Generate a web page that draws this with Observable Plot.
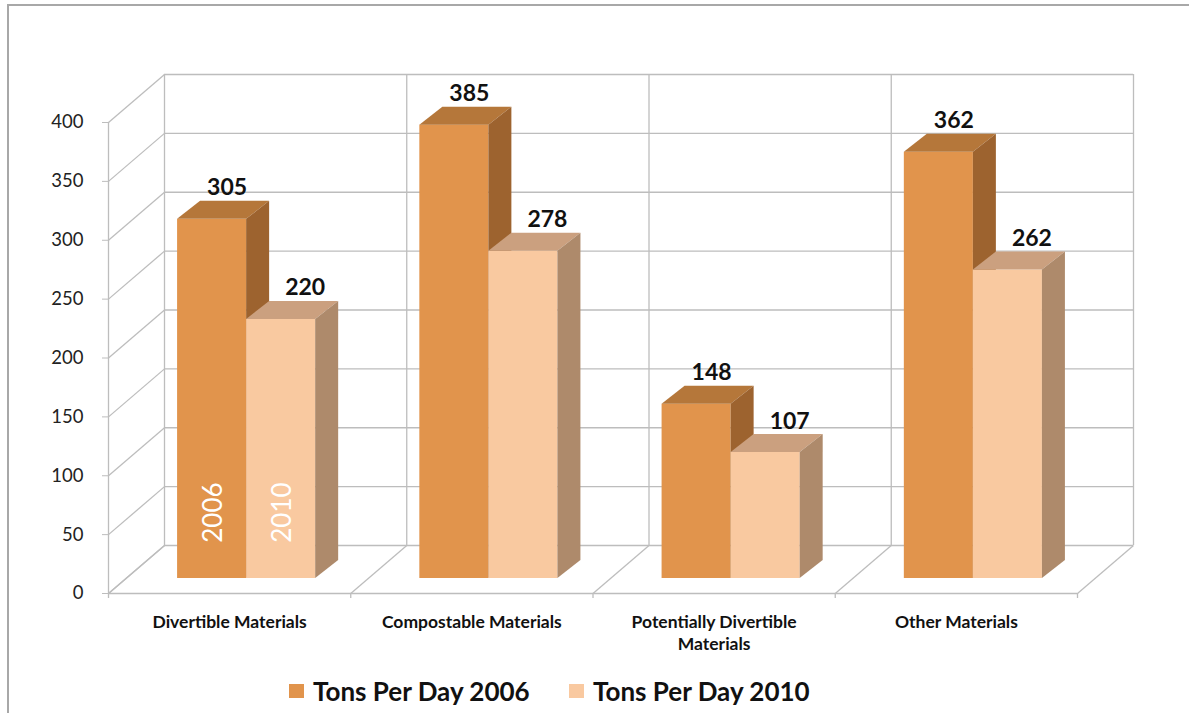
<!DOCTYPE html>
<html>
<head>
<meta charset="utf-8">
<script src="https://cdn.jsdelivr.net/npm/d3@7"></script>
<script src="https://cdn.jsdelivr.net/npm/@observablehq/plot@0.6"></script>
<style>
  html, body { margin: 0; padding: 0; background: #fff; }
  body { width: 1189px; height: 713px; position: relative; overflow: hidden; font-family: Lato, "Open Sans", sans-serif; }
  #frame { position: absolute; left: 7px; top: 4px; width: 1190px; height: 720px;
           border-top: 2px solid #a8a8a8; border-left: 2px solid #a8a8a8; }
  #chart { position: absolute; left: 0; top: 0; }
  #legend { position: absolute; left: 0; top: 672px; width: 1189px; height: 38px; }
  .item { position: absolute; top: 0; height: 38px; display: flex; align-items: center;
          font-size: 26px; font-weight: bold; color: #111; white-space: nowrap; }
  .swatch { width: 15px; height: 14px; margin-right: 9px; }
</style>
</head>
<body>
<div id="frame"></div>
<div id="chart"></div>
<div id="legend"></div>
<script>
// Waste stream tonnage, tons per day
const categories = ["Divertible Materials", "Compostable Materials", "Potentially Divertible\nMaterials", "Other Materials"];
const seriesNames = ["Tons Per Day 2006", "Tons Per Day 2010"];
const yearLabels = ["2006", "2010"];
const tons2006 = [305, 385, 148, 362];
const tons2010 = [220, 278, 107, 262];
const yTicks = [0, 50, 100, 150, 200, 250, 300, 350, 400];

// face colours per series: front, top, side
const palette = [
  {front: "#e1944c", top: "#b5773a", side: "#9d632f"},
  {front: "#f9c9a0", top: "#cba07f", side: "#ae8a6b"}
];

// plot frame
const W = 1189, H = 665;
const mLeft = 108, mRight = 112, mTop = 122, mBottom = 72;
const pxX = 4 / (W - mLeft - mRight);      // x units per pixel
const pxY = 400 / (H - mTop - mBottom);    // y units per pixel

// oblique projection offsets (pixels, right / up)
const WALL = [56, 48];   // depth of the back wall
const PLANE = [17, 15];  // plane where the bars stand
const DEPTH = [23, 18];  // thickness of each bar
const wx = WALL[0] * pxX, wy = WALL[1] * pxY;
const bx = DEPTH[0] * pxX, by = DEPTH[1] * pxY;

const barGap = 0.215, barW = 0.285;
const values = [tons2006, tons2010];
const bars = [];
values.forEach((vals, s) => vals.forEach((v, i) => {
  const x1 = i + barGap + s * barW;
  bars.push({s, i, x1, x2: x1 + barW, value: v});
}));

const topPts = bars.flatMap((b, k) => [
  {k, s: b.s, y: b.value, x1: b.x1, x2: b.x2},
  {k, s: b.s, y: b.value + by, x1: b.x1 + bx, x2: b.x2 + bx}
]);
const sidePts = bars.flatMap((b, k) => [
  {k, s: b.s, x: b.x2, y1: 0, y2: b.value},
  {k, s: b.s, x: b.x2 + bx, y1: by, y2: b.value + by}
]);

const grid = "#bdbdbd";
const font = "Lato, 'Open Sans', sans-serif";

function barMarks(s) {
  const c = palette[s];
  return [
    Plot.rect(bars.filter(d => d.s === s), {x1: "x1", x2: "x2", y1: 0, y2: "value", fill: c.front, dx: PLANE[0], dy: -PLANE[1]}),
    Plot.areaX(topPts.filter(d => d.s === s), {y: "y", x1: "x1", x2: "x2", z: "k", fill: c.top, dx: PLANE[0], dy: -PLANE[1]}),
    Plot.areaY(sidePts.filter(d => d.s === s), {x: "x", y1: "y1", y2: "y2", z: "k", fill: c.side, dx: PLANE[0], dy: -PLANE[1]})
  ];
}

// value labels sit over the top face, the lighter series a little further right
const labelShift = [15, 24];

const plot = Plot.plot({
  width: W,
  height: H,
  marginLeft: mLeft,
  marginRight: mRight,
  marginTop: mTop,
  marginBottom: mBottom,
  style: {fontFamily: font, background: "transparent", overflow: "visible"},
  x: {domain: [0, 4], axis: null},
  y: {domain: [0, 400], axis: null},
  marks: [
    // back wall
    Plot.ruleY(yTicks, {x1: 0, x2: 4, dx: WALL[0], dy: -WALL[1], stroke: grid, strokeWidth: 1.3}),
    Plot.ruleX(d3.range(5), {y1: 0, y2: 400, dx: WALL[0], dy: -WALL[1], stroke: grid, strokeWidth: 1.3}),
    // left wall and floor receding lines
    Plot.link(yTicks, {x1: 0, y1: d => d, x2: wx, y2: d => d + wy, stroke: grid, strokeWidth: 1.3}),
    Plot.link(d3.range(5), {x1: d => d, y1: 0, x2: d => d + wx, y2: wy, stroke: grid, strokeWidth: 1.3}),
    // front axis lines and floor ticks
    Plot.ruleY([0], {x1: 0, x2: 4, stroke: grid, strokeWidth: 1.3}),
    Plot.ruleX([0], {y1: 0, y2: 400, stroke: grid, strokeWidth: 1.3}),
    Plot.ruleX(d3.range(5), {y1: 0, y2: -5 * pxY, stroke: grid, strokeWidth: 1.3}),
    Plot.axisY({ticks: yTicks, tickSize: 6, tickPadding: 19, fontSize: 18.5, stroke: grid, color: "#222"}),
    // bars
    ...barMarks(0),
    ...barMarks(1),
    // value labels
    Plot.text(bars.filter(d => d.s === 0), {
      x: d => (d.x1 + d.x2) / 2, y: d => d.value + by, text: d => String(d.value),
      dx: PLANE[0] + labelShift[0], dy: -PLANE[1] - 6, lineAnchor: "bottom",
      fontSize: 23, fontWeight: "bold", fill: "#111"
    }),
    Plot.text(bars.filter(d => d.s === 1), {
      x: d => (d.x1 + d.x2) / 2, y: d => d.value + by, text: d => String(d.value),
      dx: PLANE[0] + labelShift[1], dy: -PLANE[1] - 6, lineAnchor: "bottom",
      fontSize: 23, fontWeight: "bold", fill: "#111"
    }),
    // year tags on the first group
    Plot.text(bars.filter(d => d.i === 0), {
      x: d => (d.x1 + d.x2) / 2, y: 56, text: d => yearLabels[d.s], rotate: -90,
      dx: PLANE[0] + 2, dy: -PLANE[1], fontSize: 26, fill: "#fff"
    }),
    // category labels
    Plot.text(categories, {
      x: (d, i) => i + 0.5, y: 0, text: d => d, dy: 19, lineAnchor: "top",
      fontSize: 17.5, fontWeight: "bold", lineHeight: 1.26, fill: "#111"
    })
  ]
});
document.getElementById("chart").append(plot);

// legend
const legendLeft = [289, 569];
const legend = document.getElementById("legend");
seriesNames.forEach((name, s) => {
  const item = document.createElement("div");
  item.className = "item";
  item.style.left = legendLeft[s] + "px";
  const sw = document.createElement("span");
  sw.className = "swatch";
  sw.style.background = palette[s].front;
  const label = document.createElement("span");
  label.textContent = name;
  item.append(sw, label);
  legend.append(item);
});
</script>
</body>
</html>
